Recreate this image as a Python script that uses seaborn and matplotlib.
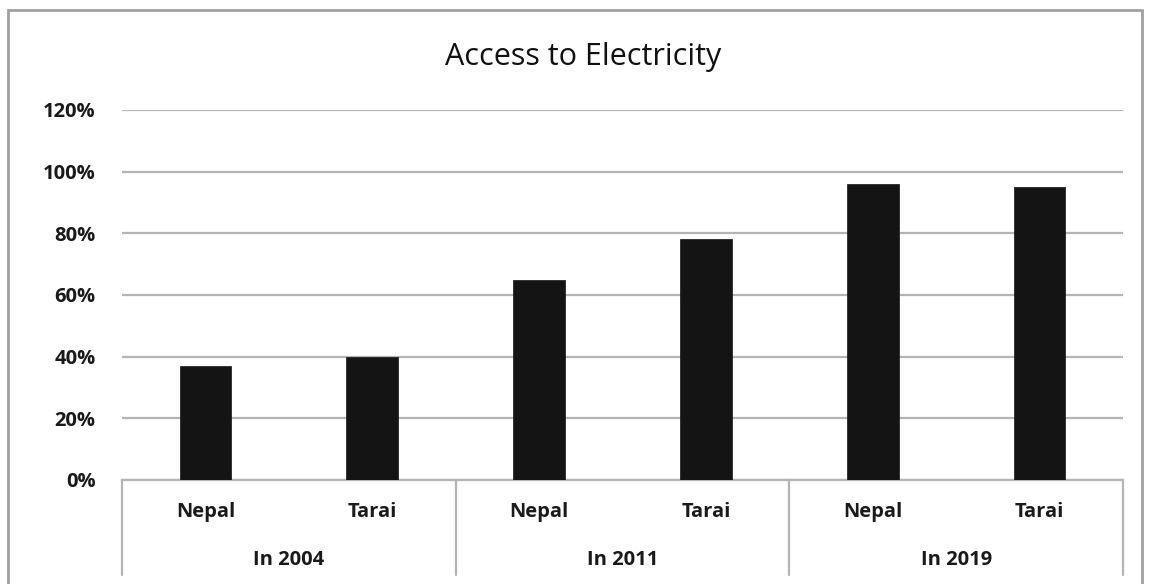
import matplotlib
matplotlib.use("Agg")
import matplotlib.pyplot as plt
from matplotlib.patches import Rectangle
import seaborn as sns
import pandas as pd

# Survey years and regions
years = ["In 2004", "In 2011", "In 2019"]
regions = ["Nepal", "Tarai"]
# Share of households with access to electricity (%), Nepal then Tarai per year
values = [37, 40, 65, 78, 96, 95]

y_ticks = [0, 20, 40, 60, 80, 100, 120]
title = "Access to Electricity"

rows = []
i = 0
for yr in years:
    for rg in regions:
        rows.append({"year": yr, "region": rg, "key": f"{yr} {rg}", "value": values[i]})
        i += 1
df = pd.DataFrame(rows)

sns.set_theme(style="white")
plt.rcParams["font.family"] = ["Open Sans", "DejaVu Sans"]

fig = plt.figure(figsize=(11.5, 5.84), dpi=100)
ax = fig.add_axes([0.1061, 0.1781, 0.8704, 0.6336])

sns.barplot(data=df, x="key", y="value", color="#141414", width=0.31,
            saturation=1, ax=ax, edgecolor="#141414", linewidth=0.5, zorder=3)

grid_c = "#b4b4b4"
label_c = "#1a1a1a"
ax.set_ylim(0, 120)
ax.set_xlim(-0.5, len(df) - 0.5)
ax.set_yticks(y_ticks)
ax.set_yticklabels([f"{t}%" for t in y_ticks], fontsize=14.5, fontweight="bold", color=label_c)
ax.yaxis.grid(True, color=grid_c, linewidth=1.6, zorder=0)
ax.set_axisbelow(True)
ax.tick_params(axis="y", length=0, pad=19)

ax.set_xticks(range(len(df)))
ax.set_xticklabels(df["region"], fontsize=14.5, fontweight="bold", color=label_c)
ax.tick_params(axis="x", length=0, pad=16)
ax.set_xlabel("")
ax.set_ylabel("")

for s in ["top", "right", "left"]:
    ax.spines[s].set_visible(False)
ax.spines["bottom"].set_color(grid_c)
ax.spines["bottom"].set_linewidth(1.6)

# Group separators and year labels below the axis
tr = ax.get_xaxis_transform()
for b in [-0.5, 1.5, 3.5, 5.5]:
    ax.plot([b, b], [0, -0.257], transform=tr, color=grid_c, linewidth=1.6, clip_on=False)
for k, yr in enumerate(years):
    ax.text(2 * k + 0.5, -0.216, yr, transform=tr, ha="center", va="center",
            fontsize=14.5, fontweight="bold", color=label_c)

fig.text(583 / 1150, 1 - 65 / 584, title, ha="center", va="baseline",
         fontsize=22, color="#111111")

# Chart frame
fig.patches.append(Rectangle((8 / 1150, -0.05), (1142 - 8) / 1150, 1.05 - 10 / 584,
                             transform=fig.transFigure, fill=False,
                             edgecolor="#a0a0a0", linewidth=2))

fig.savefig("out.png", dpi=100, facecolor="white")
